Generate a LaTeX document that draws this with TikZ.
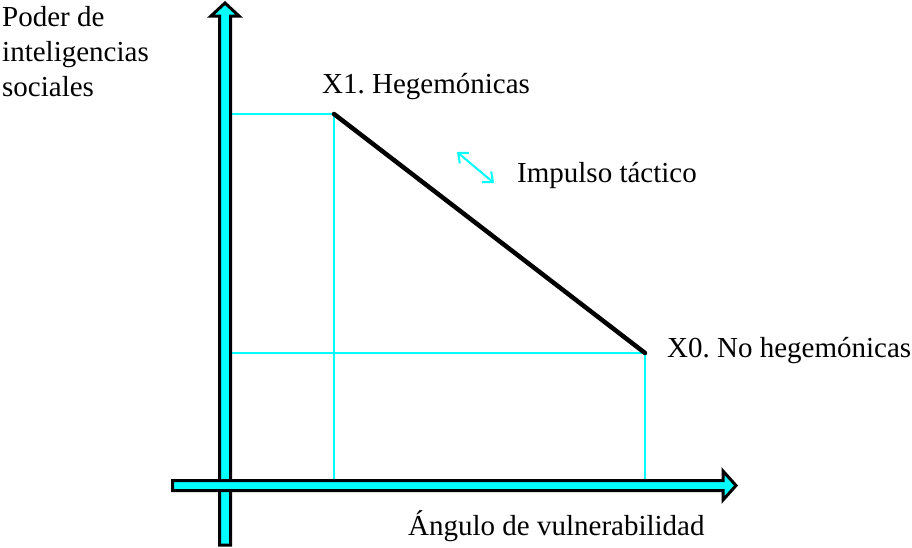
\documentclass[tikz,border=0pt]{standalone}
\usepackage{fontspec}
\setmainfont{Liberation Serif}
\usetikzlibrary{arrows.meta}
\definecolor{aqua}{RGB}{0,255,255}
\begin{document}
\frenchspacing
\begin{tikzpicture}[x=1pt,y=-1pt,
  lbl/.style={anchor=base west,inner sep=0pt,font=\rmfamily\fontsize{29}{35}\selectfont},
  axisarrow/.style={draw=black,line width=3pt,fill=aqua,line join=miter},
  guide/.style={draw=aqua,line width=2pt},
  mainline/.style={draw=black,line width=4.5pt,line cap=round},
  impulse/.style={draw=aqua,line width=2pt,{Straight Barb[length=8pt,width=14pt]}-{Straight Barb[length=8pt,width=14pt]}}]
\useasboundingbox (0,0) rectangle (912,547);
\coordinate (X1) at (334,114);
\coordinate (X0) at (645,353);
\coordinate (V1) at (232,114);
\coordinate (V0) at (232,353);
\coordinate (H1) at (334,479);
\coordinate (H0) at (645,479);
% guides
\draw[guide] (V1) -- (X1) -- (H1);
\draw[guide] (V0) -- (X0) -- (H0);
% vertical axis
\path[axisarrow] (219.5,545) -- (219.5,16) -- (211,16) -- (225,3) -- (239,16) -- (230.5,16) -- (230.5,545) -- cycle;
% horizontal axis
\path[axisarrow] (172.5,480.5) -- (723,480.5) -- (723,471) -- (736,485.5) -- (723,500) -- (723,490.5) -- (172.5,490.5) -- cycle;
% main line
\draw[mainline] (X1) -- (X0);
% impulse arrow
\coordinate (I1) at (457,152);
\coordinate (I2) at (494,183);
\draw[impulse] (I1) -- (I2);
% labels
\node[lbl] (ylab) at (2,26) {Poder de};
\node[lbl] (ylab2) at (2,61) {inteligencias};
\node[lbl] (ylab3) at (2,96) {sociales};
\node[lbl] (x1lab) at (322,93) {X1. Hegemónicas};
\node[lbl] (implab) at (517,182) {Impulso táctico};
\node[lbl] (x0lab) at (667,357) {X0. No hegemónicas};
\node[lbl] (xlab) at (408,535) {Ángulo de vulnerabilidad};
\end{tikzpicture}
\end{document}
